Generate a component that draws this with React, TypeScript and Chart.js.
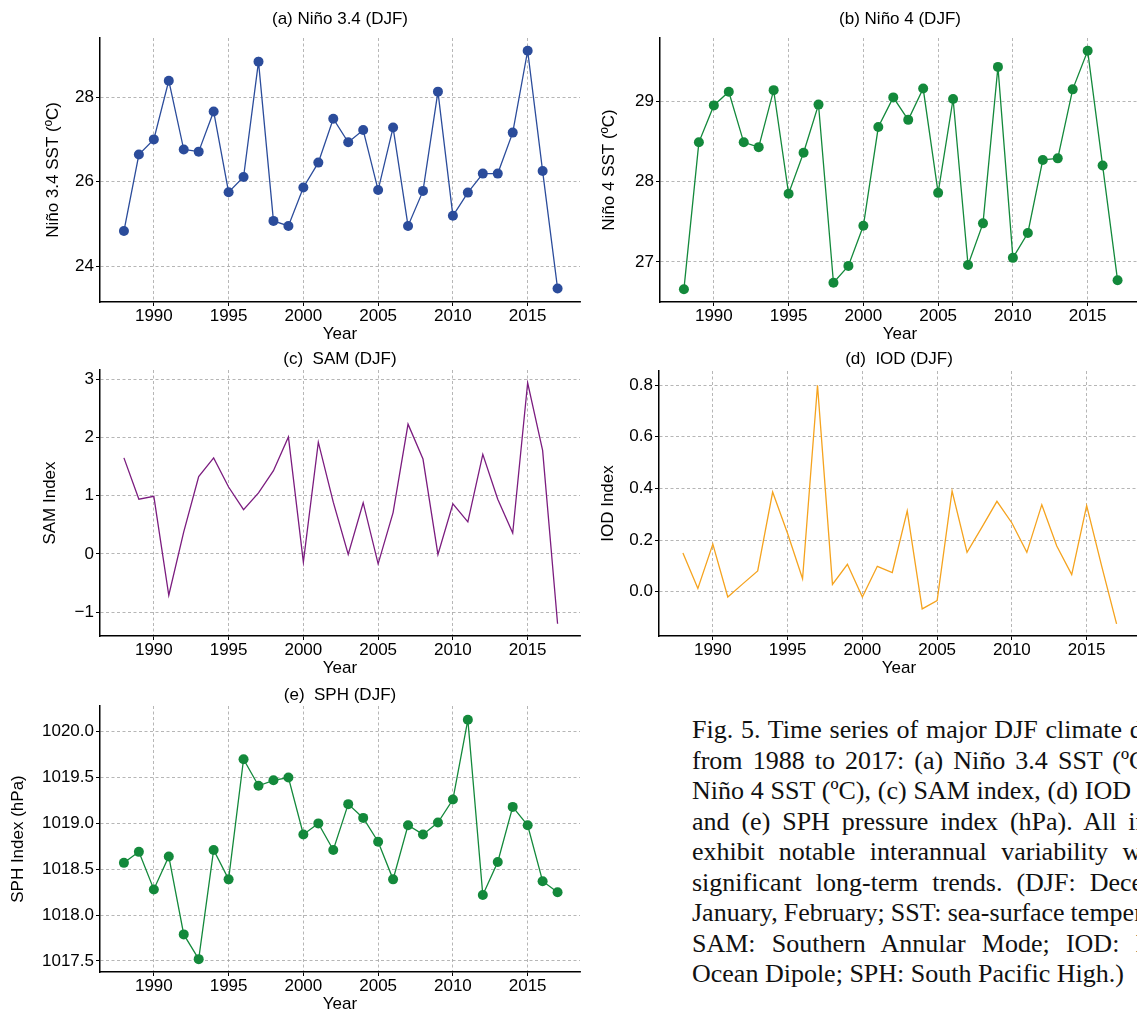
import React, { useEffect, useRef } from "react";
import { Chart, registerables } from "chart.js";

Chart.register(...registerables);

// ---------------- data ----------------
const YEARS = [
  1988, 1989, 1990, 1991, 1992, 1993, 1994, 1995, 1996, 1997,
  1998, 1999, 2000, 2001, 2002, 2003, 2004, 2005, 2006, 2007,
  2008, 2009, 2010, 2011, 2012, 2013, 2014, 2015, 2016, 2017,
];
const X_TICKS = [1990, 1995, 2000, 2005, 2010, 2015];

const NINO34 = [
  24.83, 26.64, 27.0, 28.39, 26.76, 26.71, 27.66, 25.75, 26.11, 28.84,
  25.07, 24.95, 25.86, 26.45, 27.49, 26.93, 27.22, 25.8, 27.28, 24.95,
  25.78, 28.13, 25.19, 25.74, 26.19, 26.19, 27.16, 29.1, 26.25, 23.47,
];
const NINO34_TICKS = [24, 26, 28];

const NINO4 = [
  26.66, 28.49, 28.95, 29.12, 28.49, 28.43, 29.14, 27.85, 28.36, 28.96,
  26.74, 26.95, 27.45, 28.68, 29.05, 28.77, 29.16, 27.86, 29.03, 26.96,
  27.48, 29.43, 27.05, 27.36, 28.27, 28.29, 29.15, 29.63, 28.2, 26.77,
];
const NINO4_TICKS = [27, 28, 29];

const SAM = [
  1.65, 0.94, 0.99, -0.71, 0.38, 1.33, 1.65, 1.15, 0.76, 1.05,
  1.43, 2.01, -0.14, 1.92, 0.89, -0.01, 0.88, -0.17, 0.71, 2.23,
  1.63, -0.01, 0.86, 0.55, 1.71, 0.94, 0.36, 2.94, 1.78, -1.2,
];
const SAM_TICKS = [-1, 0, 1, 2, 3];

const IOD = [
  0.15, 0.012, 0.184, -0.021, 0.03, 0.08, 0.386, 0.225, 0.05, 0.8,
  0.028, 0.106, -0.021, 0.098, 0.074, 0.313, -0.067, -0.035, 0.39, 0.152,
  0.25, 0.35, 0.266, 0.152, 0.337, 0.177, 0.066, 0.333, 0.1, -0.125,
];
const IOD_TICKS = [0, 0.2, 0.4, 0.6, 0.8];

const SPH = [
  1018.57, 1018.69, 1018.28, 1018.64, 1017.79, 1017.52, 1018.71, 1018.39, 1019.7, 1019.41,
  1019.47, 1019.5, 1018.88, 1019.0, 1018.71, 1019.21, 1019.06, 1018.8, 1018.39, 1018.98,
  1018.88, 1019.01, 1019.26, 1020.13, 1018.22, 1018.58, 1019.18, 1018.98, 1018.37, 1018.25,
];
const SPH_TICKS = [1017.5, 1018.0, 1018.5, 1019.0, 1019.5, 1020.0];

const CAPTION_LINES = [
  "Fig. 5. Time series of major DJF climate drivers",
  "from 1988 to 2017: (a) Niño 3.4 SST (ºC), (b)",
  "Niño 4 SST (ºC), (c) SAM index, (d) IOD index,",
  "and (e) SPH pressure index (hPa). All indices",
  "exhibit notable interannual variability without",
  "significant long-term trends. (DJF: December,",
  "January, February; SST: sea-surface temperature;",
  "SAM: Southern Annular Mode; IOD: Indian",
  "Ocean Dipole; SPH: South Pacific High.)",
];

// ---------------- styling ----------------
const FONT = "'Liberation Sans', Arial, Helvetica, sans-serif";
const FS = 17;
const LH = FS * 1.2;
const X_MIN = 1986.4;
const X_MAX = 2018.5;

type PanelSpec = {
  left: number;
  top: number;
  plotTop: number;
  plotBottom: number;
  titleCenter: number;
  yTitleCenter: number;
  title: string;
  yTitle: string;
  values: number[];
  yTicks: number[];
  yMin: number;
  yMax: number;
  color: string;
  markers: boolean;
  fmt: (v: number) => string;
};

const CANVAS_W = 590;
const PLOT_LEFT = 100;
const PLOT_RIGHT = 580;
const XAXIS_H = 43;

const minusFmt = (v: number) => (v < 0 ? "\u2212" + Math.abs(v) : String(v));

const PANELS: PanelSpec[] = [
  {
    left: 0, top: 0, plotTop: 38, plotBottom: 302, titleCenter: 19, yTitleCenter: 53,
    title: "(a) Niño 3.4 (DJF)", yTitle: "Niño 3.4 SST (ºC)", values: NINO34, yTicks: NINO34_TICKS,
    yMin: 23.15, yMax: 29.4, color: "#2b4c9b", markers: true, fmt: (v) => String(v),
  },
  {
    left: 560, top: 0, plotTop: 38, plotBottom: 302, titleCenter: 19, yTitleCenter: 49,
    title: "(b) Niño 4 (DJF)", yTitle: "Niño 4 SST (ºC)", values: NINO4, yTicks: NINO4_TICKS,
    yMin: 26.5, yMax: 29.79, color: "#13893b", markers: true, fmt: (v) => String(v),
  },
  {
    left: 0, top: 340, plotTop: 30, plotBottom: 296, titleCenter: 19, yTitleCenter: 50,
    title: "(c)  SAM (DJF)", yTitle: "SAM Index", values: SAM, yTicks: SAM_TICKS,
    yMin: -1.41, yMax: 3.16, color: "#7b1c7f", markers: false, fmt: minusFmt,
  },
  {
    left: 559, top: 340, plotTop: 31, plotBottom: 296, titleCenter: 19, yTitleCenter: 49,
    title: "(d)  IOD (DJF)", yTitle: "IOD Index", values: IOD, yTicks: IOD_TICKS,
    yMin: -0.172, yMax: 0.855, color: "#f5a31e", markers: false, fmt: (v) => v.toFixed(1),
  },
  {
    left: 0, top: 676, plotTop: 30, plotBottom: 296, titleCenter: 19, yTitleCenter: 18.5,
    title: "(e)  SPH (DJF)", yTitle: "SPH Index (hPa)", values: SPH, yTicks: SPH_TICKS,
    yMin: 1017.38, yMax: 1020.28, color: "#13893b", markers: true, fmt: (v) => v.toFixed(1),
  },
];

function buildConfig(p: PanelSpec): any {
  const font = { family: FONT, size: FS, weight: "normal" as const, lineHeight: 1.2 };
  const titleTop = p.titleCenter - LH / 2;
  const titleBottom = p.plotTop - titleTop - LH;
  const grid = {
    color: "#a3a3a3",
    lineWidth: 0.8,
    drawTicks: true,
    tickLength: 4,
    tickColor: "#000",
    tickWidth: 1,
    tickBorderDash: [],
  };
  const border = { display: true, color: "#000", width: 1.5, dash: [3, 2.5] };
  return {
    type: "line",
    data: {
      datasets: [
        {
          data: YEARS.map((x, i) => ({ x, y: p.values[i] })),
          borderColor: p.color,
          backgroundColor: p.color,
          borderWidth: 1.3,
          pointRadius: p.markers ? 5 : 0,
          pointBorderWidth: 0,
          pointBackgroundColor: p.color,
          tension: 0,
        },
      ],
    },
    options: {
      animation: false,
      responsive: false,
      devicePixelRatio: 1,
      layout: { padding: { left: 0, right: CANVAS_W - PLOT_RIGHT, top: 0, bottom: 0 } },
      plugins: {
        legend: { display: false },
        tooltip: { enabled: false },
        title: {
          display: true,
          text: p.title,
          color: "#000",
          fullSize: false,
          font,
          padding: { top: titleTop, bottom: titleBottom },
        },
      },
      scales: {
        x: {
          type: "linear",
          min: X_MIN,
          max: X_MAX,
          afterBuildTicks: (a: any) => {
            a.ticks = X_TICKS.map((v) => ({ value: v }));
          },
          afterFit: (a: any) => {
            a.height = XAXIS_H;
          },
          ticks: {
            callback: (v: any) => String(v),
            font,
            color: "#000",
            padding: 0,
            autoSkip: false,
            maxRotation: 0,
          },
          grid,
          border,
          title: {
            display: true,
            text: "Year",
            color: "#000",
            font,
            padding: { top: 0, bottom: XAXIS_H - 32 - LH / 2 },
          },
        },
        y: {
          type: "linear",
          min: p.yMin,
          max: p.yMax,
          afterBuildTicks: (a: any) => {
            a.ticks = p.yTicks.map((v) => ({ value: v }));
          },
          afterFit: (a: any) => {
            a.width = PLOT_LEFT;
          },
          ticks: {
            callback: (v: any) => p.fmt(Number(v)),
            font,
            color: "#000",
            padding: 2,
            autoSkip: false,
          },
          grid,
          border,
          title: {
            display: true,
            text: p.yTitle,
            color: "#000",
            font,
            padding: { top: p.yTitleCenter - LH / 2, bottom: 0 },
          },
        },
      },
    },
  };
}

function Panel({ spec }: { spec: PanelSpec }) {
  const ref = useRef<HTMLCanvasElement>(null);
  const h = spec.plotBottom + XAXIS_H;
  useEffect(() => {
    if (!ref.current) return;
    const chart = new Chart(ref.current, buildConfig(spec));
    return () => chart.destroy();
  }, [spec]);
  return (
    <canvas
      ref={ref}
      width={CANVAS_W}
      height={h}
      style={{
        position: "absolute",
        left: spec.left,
        top: spec.top,
        width: CANVAS_W,
        height: h,
      }}
    />
  );
}

function Caption() {
  return (
    <div
      style={{
        position: "absolute",
        left: 692,
        top: 715,
        width: 510,
        fontFamily: "'Liberation Serif', 'Times New Roman', Times, serif",
        fontSize: 26,
        lineHeight: "30.5px",
        color: "#111",
      }}
    >
      {CAPTION_LINES.map((line, i) => {
        const last = i === CAPTION_LINES.length - 1;
        return (
          <div
            key={i}
            style={{
              textAlign: last ? "left" : "justify",
              textAlignLast: last ? "left" : "justify",
              wordSpacing: i === 6 ? "-3px" : i === 2 ? "-1px" : undefined,
            }}
          >
            {line}
          </div>
        );
      })}
    </div>
  );
}

export default function App() {
  return (
    <div
      style={{
        position: "fixed",
        left: 0,
        top: 0,
        width: 1137,
        height: 1013,
        overflow: "hidden",
        background: "#fff",
      }}
    >
      {PANELS.map((p, i) => (
        <Panel key={i} spec={p} />
      ))}
      <Caption />
    </div>
  );
}
